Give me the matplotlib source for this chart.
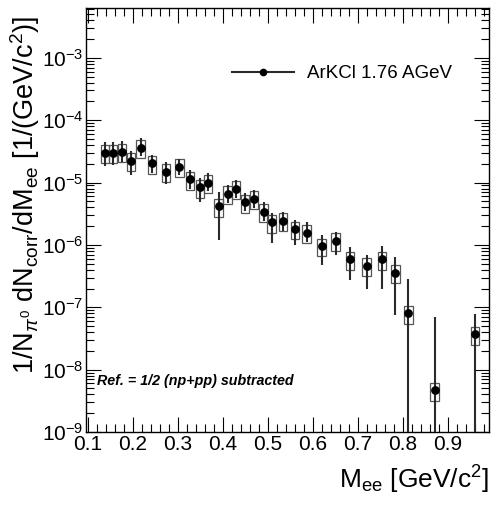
import matplotlib
matplotlib.use("Agg")
import matplotlib.pyplot as plt
from matplotlib.patches import Rectangle
from matplotlib.lines import Line2D
from matplotlib.ticker import LogLocator, MultipleLocator, LogFormatterSciNotation, NullFormatter
import numpy as np

plt.rcParams['font.family'] = ['Liberation Sans', 'DejaVu Sans']
plt.rcParams['mathtext.fontset'] = 'custom'
plt.rcParams['mathtext.rm'] = 'Liberation Sans'
plt.rcParams['mathtext.it'] = 'Liberation Sans:italic'
plt.rcParams['mathtext.bf'] = 'Liberation Sans:bold'
plt.rcParams['mathtext.sf'] = 'Liberation Sans'

# ---- data ----
mee = [0.138, 0.156, 0.176, 0.196, 0.217, 0.242, 0.273, 0.303, 0.327, 0.349,
       0.367, 0.390, 0.410, 0.429, 0.449, 0.469, 0.490, 0.508, 0.533, 0.560,
       0.586, 0.619, 0.650, 0.682, 0.719, 0.753, 0.783, 0.812, 0.870, 0.960]
yield_val = [3.0e-5, 3.0e-5, 3.1e-5, 2.25e-5, 3.6e-5, 2.05e-5, 1.5e-5, 1.8e-5, 1.13e-5, 8.4e-6,
             1.0e-5, 4.2e-6, 6.6e-6, 8.0e-6, 4.8e-6, 5.5e-6, 3.4e-6, 2.3e-6, 2.45e-6, 1.8e-6,
             1.58e-6, 9.6e-7, 1.16e-6, 5.9e-7, 4.6e-7, 5.9e-7, 3.6e-7, 8.0e-8, 4.7e-9, 3.7e-8]
stat_hi = [4.54e-5, 4.5e-5, 4.7e-5, 3.26e-5, 5.15e-5, 2.75e-5, 2.17e-5, 2.42e-5, 1.58e-5, 1.17e-5,
           1.40e-5, 7.1e-6, 9.2e-6, 1.12e-5, 6.7e-6, 7.6e-6, 4.8e-6, 3.3e-6, 3.38e-6, 2.51e-6,
           2.3e-6, 1.45e-6, 1.63e-6, 9.3e-7, 6.9e-7, 9.6e-7, 6.4e-7, 2.8e-7, 7.1e-8, 7.7e-8]
stat_lo = [1.85e-5, 1.92e-5, 2.17e-5, 1.33e-5, 2.65e-5, 1.41e-5, 9.6e-6, 1.34e-5, 7.8e-6, 4.84e-6,
           7.2e-6, 1.2e-6, 4.7e-6, 5.7e-6, 3.47e-6, 3.9e-6, 2.45e-6, 1.08e-6, 1.69e-6, 1.0e-6,
           1.1e-6, 4.8e-7, 6.9e-7, 2.74e-7, 1.97e-7, 1.97e-7, 7.5e-8, 1e-12, 1e-12, 1e-12]
sys_rel = [0.32, 0.32, 0.32, 0.32, 0.32, 0.32, 0.32, 0.32, 0.32, 0.32,
           0.32, 0.32, 0.32, 0.32, 0.32, 0.32, 0.32, 0.32, 0.32, 0.32,
           0.32, 0.32, 0.32, 0.32, 0.32, 0.32, 0.32, 0.32, 0.32, 0.32]
series_label = "ArKCl 1.76 AGeV"
note_text = "Ref. = 1/2 (np+pp) subtracted"

# ---- figure ----
fig = plt.figure(figsize=(4.91, 5.05), dpi=100)
ax = fig.add_axes([86/491, 1-432/505, (489-86)/491, (432-8)/505])

ax.set_yscale('log')
ax.set_xlim(0.0956, 0.991)
ax.set_ylim(1e-9, 10**-2.2)

x = np.array(mee); y = np.array(yield_val)
hi = np.array(stat_hi); lo = np.array(stat_lo)
s = np.array(sys_rel)

box_hw = 0.0095
for xi, yi, si in zip(x, y, s):
    ax.add_patch(Rectangle((xi - box_hw, yi * (1 - si)), 2 * box_hw, yi * (1 + si) - yi * (1 - si),
                           fill=False, edgecolor='#555555', linewidth=0.9, zorder=2))

ax.errorbar(x, y, yerr=[y - lo, hi - y], fmt='o', color='black', ecolor='#2a2a2a',
            elinewidth=1.5, markersize=5.3, capsize=0, zorder=3)

# ticks
ax.yaxis.set_major_locator(LogLocator(base=10, numticks=20))
ax.yaxis.set_minor_locator(LogLocator(base=10, subs=np.arange(2, 10), numticks=20))
ax.yaxis.set_major_formatter(LogFormatterSciNotation())
ax.yaxis.set_minor_formatter(NullFormatter())
ax.xaxis.set_major_locator(MultipleLocator(0.1))
ax.xaxis.set_minor_locator(MultipleLocator(0.02))
ax.xaxis.set_major_formatter(plt.FuncFormatter(lambda v, p: f"{v:.1f}"))
ax.tick_params(which='both', direction='in', top=True, right=True, labelsize=15, pad=2)
ax.tick_params(which='major', length=11, width=0.8)
ax.tick_params(which='minor', length=6, width=0.8)
for sp in ax.spines.values():
    sp.set_linewidth(1.0)

ax.set_ylabel(r'1/N$_{\pi^0}$ dN$_{\rm corr}$/dM$_{\rm ee}$ [1/(GeV/c$^2$)]', fontsize=19.5)
ax.yaxis.set_label_coords(-0.108, 0.56)
ax.set_xlabel(r'M$_{\rm ee}$ [GeV/c$^2$]', fontsize=19, ha='right')
ax.xaxis.set_label_coords(1.0, -0.075)

handle = Line2D([], [], color='#2a2a2a', lw=1.5, marker='o', markersize=4.5,
                markerfacecolor='black', markeredgecolor='black')
ax.legend([handle], [series_label], loc='center left', bbox_to_anchor=(0.32, 0.845),
          frameon=False, fontsize=13.5, handlelength=3.3, handletextpad=0.7)

ax.text(0.028, 0.12, note_text, transform=ax.transAxes, fontsize=10.3,
        fontstyle='italic', fontweight='bold', va='center', ha='left')

fig.savefig('out.png', dpi=100)
